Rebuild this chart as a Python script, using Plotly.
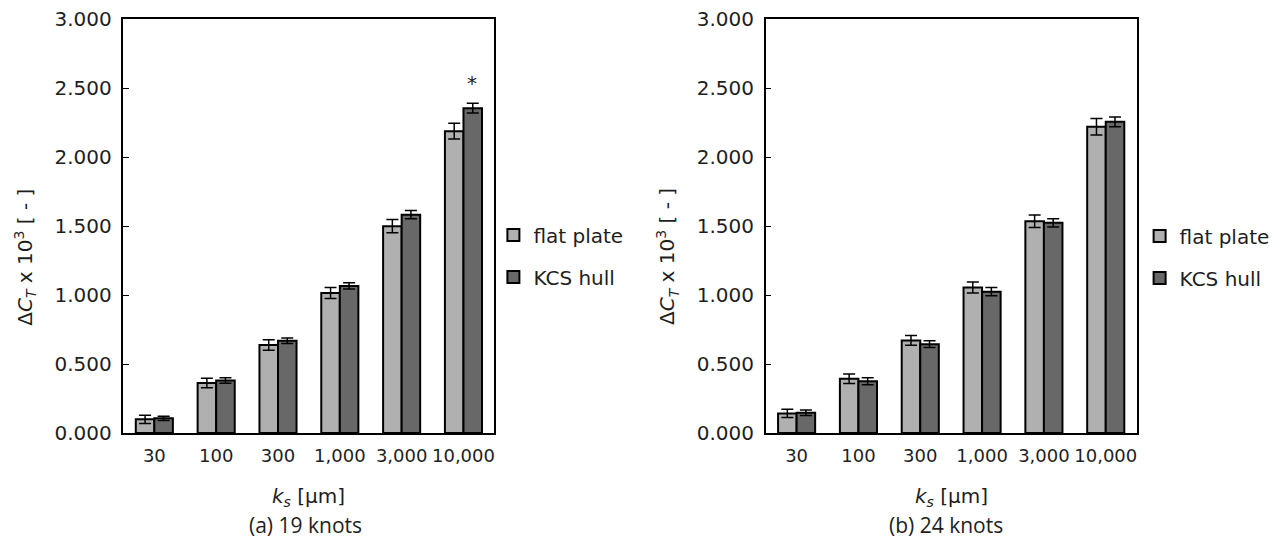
import plotly.graph_objects as go

categories = ["30", "100", "300", "1,000", "3,000", "10,000"]

# (a) 19 knots
fp_19 = [0.099, 0.362, 0.638, 1.015, 1.499, 2.187]
fp_19_err = [0.030, 0.034, 0.038, 0.040, 0.048, 0.057]
kcs_19 = [0.106, 0.380, 0.668, 1.066, 1.582, 2.354]
kcs_19_err = [0.015, 0.020, 0.020, 0.022, 0.030, 0.035]

# (b) 24 knots
fp_24 = [0.142, 0.393, 0.671, 1.054, 1.535, 2.219]
fp_24_err = [0.030, 0.035, 0.035, 0.040, 0.045, 0.060]
kcs_24 = [0.147, 0.375, 0.644, 1.024, 1.523, 2.255]
kcs_24_err = [0.020, 0.025, 0.025, 0.030, 0.030, 0.035]

y_ticks = [0.0, 0.5, 1.0, 1.5, 2.0, 2.5, 3.0]

FP_COLOR = "#b0b0b0"
KCS_COLOR = "#686868"
TXT = "#1e1e1e"
FONT = "DejaVu Sans"

# page body has an 8px default margin; figure sized to fit the window
OFF = 8
W, H = 1283 - 2 * OFF, 550 - 2 * OFF

fig = go.Figure()

def add_bars(x_ax, y_ax, legend, fp, fp_e, kcs, kcs_e, grp):
    for name, vals, errs, col, lg in [("flat plate", fp, fp_e, FP_COLOR, grp + "a"),
                                      ("KCS hull", kcs, kcs_e, KCS_COLOR, grp + "b")]:
        fig.add_trace(go.Bar(
            x=categories, y=vals, name=name,
            marker=dict(color=col, line=dict(color="black", width=2)),
            error_y=dict(type="data", array=errs, color="black", thickness=1.5, width=6),
            xaxis=x_ax, yaxis=y_ax, legend=legend, legendgroup=lg,
        ))

add_bars("x", "y", "legend", fp_19, fp_19_err, kcs_19, kcs_19_err, "l")
add_bars("x2", "y2", "legend2", fp_24, fp_24_err, kcs_24, kcs_24_err, "r")

def px_x(p):
    return (p - OFF) / W

def px_y(p):
    return 1 - (p - OFF) / H

axis_common = dict(showline=True, linecolor="black", linewidth=1.5, mirror=True,
                   showgrid=False, zeroline=False, automargin=False,
                   ticklabeloverflow="allow")
xaxis_common = dict(type="category", tickangle=0, ticklabelstandoff=6, ticks="",
                    tickfont=dict(family=FONT, size=18, color=TXT), **axis_common)
yaxis_common = dict(range=[0, 3.0], tickvals=y_ticks, tickformat=".3f",
                    ticks="inside", ticklen=6, tickcolor="black", tickwidth=1.2,
                    ticklabelstandoff=6,
                    tickfont=dict(family=FONT, size=20, color=TXT), **axis_common)
legend_common = dict(xanchor="left", yanchor="middle",
                     font=dict(family=FONT, size=20, color=TXT),
                     traceorder="grouped", tracegroupgap=13, itemwidth=30,
                     bgcolor="rgba(0,0,0,0)")

PLOT_TOP, PLOT_BOT = 19, 433
fig.update_layout(
    width=W, height=H,
    margin=dict(l=0, r=0, t=0, b=0),
    paper_bgcolor="white", plot_bgcolor="white",
    barmode="group", bargap=0.40, bargroupgap=0.0,
    xaxis=dict(domain=[px_x(125), px_x(501)], anchor="y", **xaxis_common),
    yaxis=dict(domain=[px_y(PLOT_BOT), px_y(PLOT_TOP)], anchor="x", **yaxis_common),
    xaxis2=dict(domain=[px_x(776), px_x(1152)], anchor="y2", **xaxis_common),
    yaxis2=dict(domain=[px_y(PLOT_BOT), px_y(PLOT_TOP)], anchor="x2", **yaxis_common),
    legend=dict(x=px_x(500), y=px_y(256), **legend_common),
    legend2=dict(x=px_x(1155), y=px_y(257), **legend_common),
    showlegend=True,
)

ytitle = "Δ<i>C</i><sub><i>T</i></sub> x 10<sup>3</sup> [ - ]"
xtitle = "<i>k</i><sub><i>s</i></sub> [µm]"

def ann(text, x, y, size=20, family=FONT, angle=0, yanchor="middle"):
    return dict(text=text, x=px_x(x), y=px_y(y), xref="paper", yref="paper",
                textangle=angle, showarrow=False, xanchor="center", yanchor=yanchor,
                font=dict(family=family, size=size, color=TXT))

annotations = [
    ann(ytitle, 26, 257, angle=-90),
    ann(ytitle, 677, 257, angle=-90),
    ann(xtitle, 313, 497),
    ann(xtitle, 964, 497),
    ann("(a) 19 knots", 310, 541, size=21, family="Open Sans", yanchor="bottom"),
    ann("(b) 24 knots", 959, 541, size=21, family="Open Sans", yanchor="bottom"),
    dict(text="*", x="10,000", y=kcs_19[5] + kcs_19_err[5] + 0.15, xref="x", yref="y",
         xshift=9, showarrow=False, xanchor="center", yanchor="middle",
         font=dict(family=FONT, size=20, color=TXT)),
]
fig.update_layout(annotations=annotations)

fig.write_html("out.html")
